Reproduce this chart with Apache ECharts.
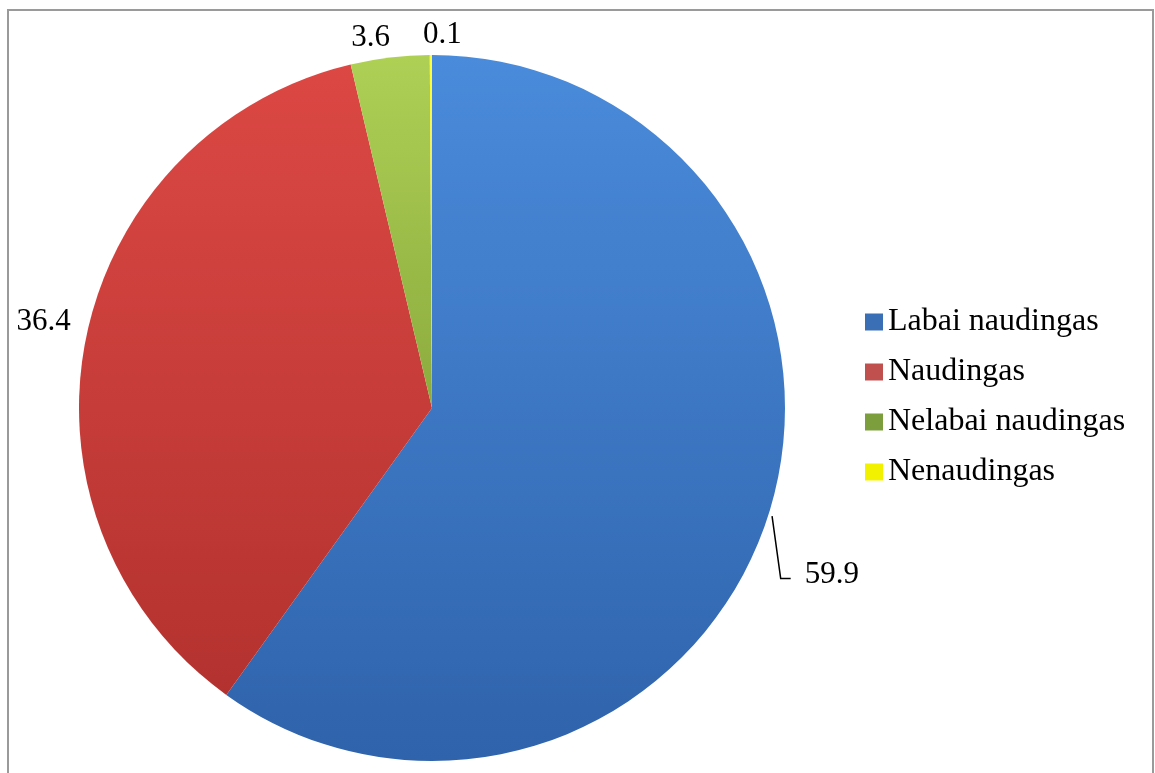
<!DOCTYPE html>
<html>
<head>
<meta charset="utf-8">
<script src="https://cdn.jsdelivr.net/npm/echarts@6/dist/echarts.min.js"></script>
<style>
html,body{margin:0;padding:0;background:#fff;}
#chart{width:1155px;height:773px;}
</style>
</head>
<body>
<div id="chart"></div>
<script>
const categories = ['Labai naudingas', 'Naudingas', 'Nelabai naudingas', 'Nenaudingas'];
const values = [59.9, 36.4, 3.6, 0.1];
const colorStops = [
  ['#4a8bdb', '#2f63ab'],
  ['#dc4844', '#b3322f'],
  ['#aed055', '#8cab3e'],
  ['#ffff40', '#d8d800']
];
const legendColors = ['#3a6fb5', '#c0504d', '#7d9e3c', '#f2f200'];
// label nudges (dx, dy) to mimic the reference placement
const labelNudge = [[18, 56], [4, -16], [12, -12], [42, -12]];

const chart = echarts.init(document.getElementById('chart'));
const font = '"Liberation Serif", "Times New Roman", serif';

chart.setOption({
  animation: false,
  backgroundColor: '#ffffff',
  graphic: [{
    type: 'rect',
    shape: { x: 8, y: 10, width: 1145, height: 790 },
    style: { fill: 'none', stroke: '#9a9a9a', lineWidth: 2 },
    silent: true,
    z: 0
  }],
  legend: {
    orient: 'vertical',
    left: 860,
    top: 301,
    itemWidth: 18,
    itemHeight: 17,
    itemGap: 18,
    icon: 'rect',
    textStyle: { fontFamily: font, fontSize: 32, color: '#000', padding: [0, 0, 0, 0] },
    data: categories.map((c, i) => ({ name: c, itemStyle: { color: legendColors[i] } }))
  },
  series: [{
    type: 'pie',
    center: [432, 408],
    radius: 353,
    startAngle: 90,
    clockwise: true,
    avoidLabelOverlap: false,
    label: {
      show: true,
      position: 'outside',
      fontFamily: font,
      fontSize: 31,
      color: '#000',
      formatter: p => p.value.toFixed(1)
    },
    labelLine: {
      show: true,
      length: 8,
      length2: 6,
      lineStyle: { color: '#000', width: 1.5 }
    },
    labelLayout: p => {
      const n = labelNudge[p.dataIndex];
      const out = { dx: n[0], dy: n[1] };
      if (p.labelLinePoints && p.dataIndex === 0) {
        const r = p.labelRect;
        const lx = r.x + n[0];
        const ly = r.y + n[1] + r.height / 2 + 4;
        const start = p.labelLinePoints[0];
        out.labelLinePoints = [[start[0] + 4, start[1]], [lx - 24, ly], [lx - 14, ly]];
      }
      return out;
    },
    itemStyle: { borderWidth: 0 },
    emphasis: { disabled: true },
    data: categories.map((c, i) => ({
      name: c,
      value: values[i],
      labelLine: { show: i === 0 },
      itemStyle: {
        color: new echarts.graphic.LinearGradient(0, 0, 0, 1, [
          { offset: 0, color: colorStops[i][0] },
          { offset: 1, color: colorStops[i][1] }
        ])
      }
    }))
  }]
});
</script>
</body>
</html>
